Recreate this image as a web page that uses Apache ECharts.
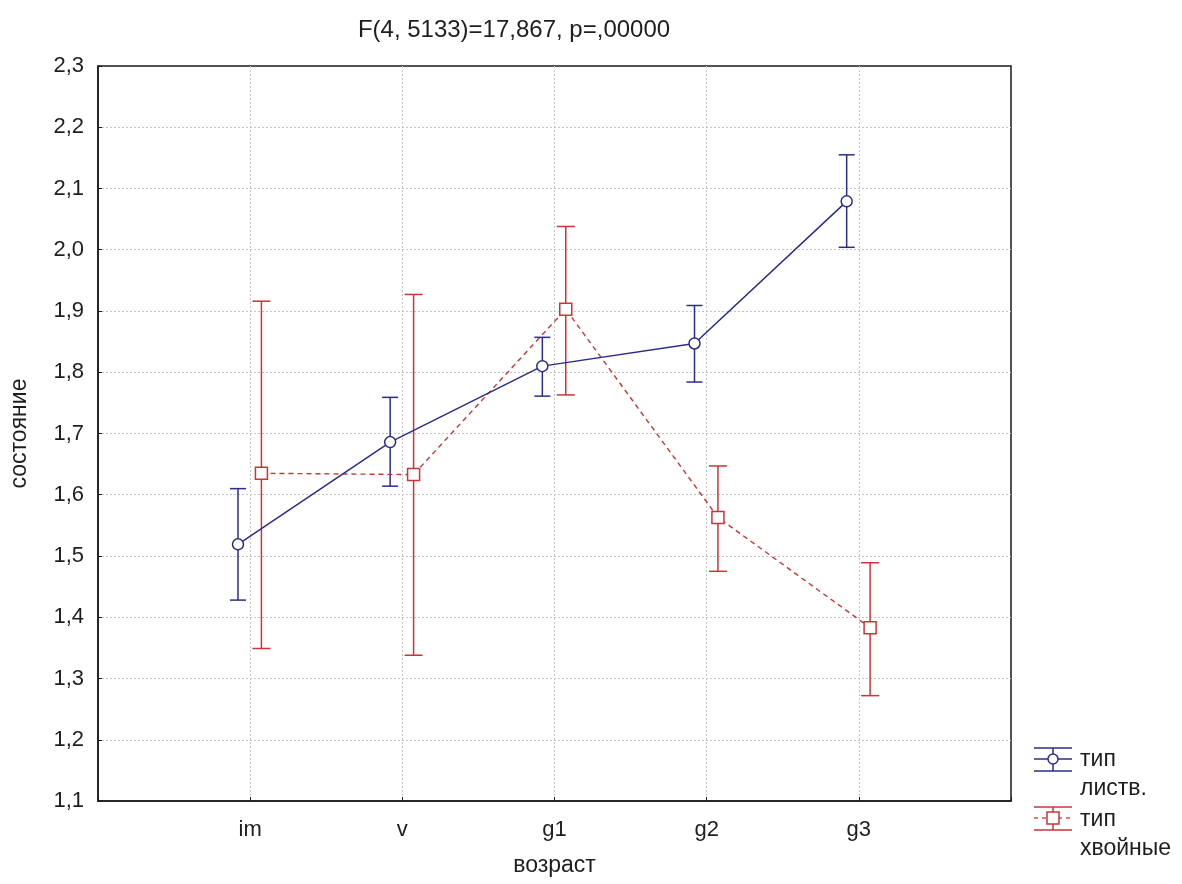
<!DOCTYPE html>
<html>
<head>
<meta charset="utf-8">
<script src="https://cdn.jsdelivr.net/npm/echarts@6/dist/echarts.min.js"></script>
<style>
html,body{margin:0;padding:0;background:#fff;}
#chart{width:1182px;height:884px;}
</style>
</head>
<body>
<div id="chart"></div>
<script>
// ---- data ----
var categories = ['im', 'v', 'g1', 'g2', 'g3'];
var seriesNames = ['тип\nлиств.', 'тип\nхвойные'];
var titleText = 'F(4, 5133)=17,867, p=,00000';
var xAxisName = 'возраст';
var yAxisName = 'состояние';

var leafMean  = [1.519, 1.686, 1.810, 1.847, 2.079];
var leafLow   = [1.428, 1.614, 1.761, 1.784, 2.004];
var leafHigh  = [1.610, 1.759, 1.857, 1.909, 2.155];

var conMean   = [1.635, 1.633, 1.903, 1.563, 1.383];
var conLow    = [1.349, 1.338, 1.763, 1.475, 1.272];
var conHigh   = [1.916, 1.927, 2.038, 1.647, 1.489];

var yMin = 1.1, yMax = 2.3, yStep = 0.1;

// ---- styling ----
var BLUE = '#2c2c8a';
var RED = '#c83638';
var FONT = 'Liberation Sans, Arial, sans-serif';
var TXT = '#1e1e1e';
var offBlue = -0.08, offRed = 0.074;

function pts(mean, off) {
  return mean.map(function (v, i) { return [i + 1 + off, v]; });
}
function bars(low, high, off) {
  return low.map(function (v, i) { return [i + 1 + off, v, high[i]]; });
}
function errRender(color, capHalf) {
  return function (params, api) {
    var x = api.value(0);
    var lo = api.coord([x, api.value(1)]);
    var hi = api.coord([x, api.value(2)]);
    var st = { stroke: color, lineWidth: 1.5 };
    return {
      type: 'group',
      children: [
        { type: 'line', shape: { x1: lo[0], y1: lo[1], x2: hi[0], y2: hi[1] }, style: st },
        { type: 'line', shape: { x1: lo[0] - capHalf, y1: lo[1], x2: lo[0] + capHalf, y2: lo[1] }, style: st },
        { type: 'line', shape: { x1: hi[0] - capHalf, y1: hi[1], x2: hi[0] + capHalf, y2: hi[1] }, style: st }
      ]
    };
  };
}

var chart = echarts.init(document.getElementById('chart'));
var gridLine = { show: true, showMinLine: false, showMaxLine: false, lineStyle: { color: '#c4c4c4', type: [2, 2], width: 1 } };

// legend drawn as graphic (symbol + text)
function legendSymbol(y0, color, dashed, square) {
  var st = { stroke: color, lineWidth: 1.5, fill: null };
  var cx = 1053, cy = y0 + 11;
  var kids = [
    { type: 'line', shape: { x1: 1034, y1: y0, x2: 1072, y2: y0 }, style: st },
    { type: 'line', shape: { x1: 1034, y1: y0 + 23, x2: 1072, y2: y0 + 23 }, style: st },
    { type: 'line', shape: { x1: cx, y1: y0, x2: cx, y2: y0 + 23 }, style: st },
    { type: 'line', shape: { x1: 1034, y1: cy, x2: 1072, y2: cy }, style: { stroke: color, lineWidth: 1.3, lineDash: dashed ? [4, 4] : null } }
  ];
  if (square) {
    kids.push({ type: 'rect', shape: { x: cx - 6, y: cy - 6, width: 12, height: 12 }, style: { stroke: color, lineWidth: 1.5, fill: '#fff' } });
  } else {
    kids.push({ type: 'circle', shape: { cx: cx, cy: cy, r: 5 }, style: { stroke: color, lineWidth: 1.5, fill: '#fff' } });
  }
  return { type: 'group', children: kids };
}

chart.setOption({
  animation: false,
  backgroundColor: '#fff',
  title: {
    text: titleText,
    left: 509, top: 13,
    textAlign: 'center',
    textStyle: { fontFamily: FONT, fontSize: 24, fontWeight: 'normal', color: TXT }
  },
  grid: { left: 96, top: 66, right: 171, bottom: 83, show: true, borderColor: '#1a1a1a', borderWidth: 1.5, backgroundColor: 'transparent' },
  xAxis: {
    type: 'value', min: 0, max: 6, interval: 1,
    name: xAxisName, nameLocation: 'middle', nameGap: 53,
    nameTextStyle: { fontFamily: FONT, fontSize: 23, color: TXT },
    axisLine: { show: true, lineStyle: { color: '#1a1a1a', width: 1.5 } },
    axisTick: { show: true, inside: true, length: 4, lineStyle: { color: '#1a1a1a' } },
    axisLabel: {
      fontFamily: FONT, fontSize: 22, color: TXT, margin: 18,
      formatter: function (v) { var i = Math.round(v) - 1; return categories[i] || ''; }
    },
    splitLine: gridLine
  },
  yAxis: {
    type: 'value', min: yMin, max: yMax, interval: yStep,
    name: yAxisName, nameLocation: 'middle', nameGap: 67, nameRotate: 90,
    nameTextStyle: { fontFamily: FONT, fontSize: 23, color: TXT },
    axisLine: { show: true, lineStyle: { color: '#1a1a1a', width: 1.5 } },
    axisTick: { show: true, inside: true, length: 4, lineStyle: { color: '#1a1a1a' } },
    axisLabel: {
      fontFamily: FONT, fontSize: 22, color: TXT, margin: 14,
      formatter: function (v) { return v.toFixed(1).replace('.', ','); }
    },
    splitLine: gridLine
  },
  graphic: [
    legendSymbol(748, BLUE, false, false),
    legendSymbol(807, RED, true, true),
    { type: 'text', left: 1080, top: 745, style: { text: seriesNames[0], font: '23px ' + FONT, fill: TXT, lineHeight: 29 } },
    { type: 'text', left: 1080, top: 805, style: { text: seriesNames[1], font: '23px ' + FONT, fill: TXT, lineHeight: 29 } }
  ],
  series: [
    {
      type: 'custom', name: seriesNames[0], renderItem: errRender(BLUE, 8),
      data: bars(leafLow, leafHigh, offBlue), z: 2, clip: false
    },
    {
      type: 'custom', name: seriesNames[1], renderItem: errRender(RED, 9),
      data: bars(conLow, conHigh, offRed), z: 2, clip: false
    },
    {
      type: 'line', name: seriesNames[1], data: pts(conMean, offRed), z: 3,
      symbol: 'rect', symbolSize: 12, showAllSymbol: true,
      lineStyle: { color: RED, width: 1.4, type: [5, 4] },
      itemStyle: { color: '#fff', borderColor: RED, borderWidth: 1.5 }
    },
    {
      type: 'line', name: seriesNames[0], data: pts(leafMean, offBlue), z: 4,
      symbol: 'circle', symbolSize: 11, showAllSymbol: true,
      lineStyle: { color: BLUE, width: 1.5 },
      itemStyle: { color: '#fff', borderColor: BLUE, borderWidth: 1.5 }
    }
  ]
});
</script>
</body>
</html>
